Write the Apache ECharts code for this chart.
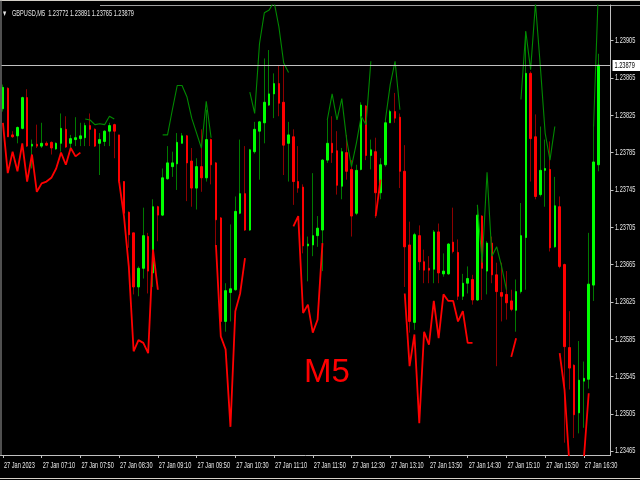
<!DOCTYPE html>
<html><head><meta charset="utf-8">
<script src="https://cdn.jsdelivr.net/npm/echarts@6/dist/echarts.min.js"></script>
<style>html,body{margin:0;padding:0;background:#000;}#c{width:640px;height:480px;}</style>
</head><body><div id="c"></div>
<script>
const symbol = 'GBPUSD,M5';
const tickLabels = ['27 Jan 2023','27 Jan 07:10','27 Jan 07:50','27 Jan 08:30','27 Jan 09:10','27 Jan 09:50','27 Jan 10:30','27 Jan 11:10','27 Jan 11:50','27 Jan 12:30','27 Jan 13:10','27 Jan 13:50','27 Jan 14:30','27 Jan 15:10','27 Jan 15:50','27 Jan 16:30'];
const priceTicks = [1.23465,1.23505,1.23545,1.23585,1.23625,1.23665,1.23705,1.23745,1.23785,1.23825,1.23865,1.23905];

const open = [1.23832,1.23854,1.23804,1.23803,1.23811,1.23844,1.23792,1.23794,1.23792,1.23795,
1.23796,1.23789,1.23795,1.23810,1.23795,1.23799,1.23800,1.23801,1.23814,1.23810,
1.23795,1.23797,1.23808,1.23815,1.23804,1.23754,1.23721,1.23699,1.23641,1.23661,
1.23695,1.23656,1.23727,1.23718,1.23757,1.23770,1.23773,1.23795,1.23803,1.23776,
1.23747,1.23770,1.23758,1.23799,1.23774,1.23715,1.23604,1.23635,1.23638,1.23720,
1.23741,1.23702,1.23786,1.23808,1.23817,1.23836,1.23848,1.23859,1.23839,1.23795,
1.23802,1.23754,1.23748,1.23685,1.23686,1.23696,1.23702,1.23777,1.23795,1.23787,
1.23749,1.23785,1.23767,1.23720,1.23767,1.23835,1.23782,1.23786,1.23742,1.23772,
1.23817,1.23829,1.23823,1.23765,1.23686,1.23603,1.23696,1.23668,1.23661,1.23660,
1.23700,1.23655,1.23655,1.23689,1.23678,1.23631,1.23645,1.23649,1.23627,1.23717,
1.23658,1.23688,1.23654,1.23635,1.23633,1.23626,1.23616,1.23636,1.23694,1.23870,
1.23802,1.23740,1.23766,1.23767,1.23684,1.23727,1.23665,1.23576,1.23557,1.23506,
1.23540,1.23542,1.23643,1.23772];
const high = [1.23858,1.23855,1.23808,1.23813,1.23845,1.23853,1.23799,1.23815,1.23817,1.23797,
1.23797,1.23796,1.23827,1.23824,1.23804,1.23823,1.23817,1.23817,1.23827,1.23811,
1.23806,1.23809,1.23817,1.23816,1.23804,1.23754,1.23722,1.23699,1.23663,1.23726,
1.23699,1.23735,1.23728,1.23768,1.23792,1.23786,1.23806,1.23806,1.23804,1.23790,
1.23779,1.23810,1.23831,1.23800,1.23775,1.23716,1.23645,1.23708,1.23738,1.23799,
1.23792,1.23789,1.23818,1.23819,1.23886,1.23895,1.23870,1.23879,1.23879,1.23818,
1.23810,1.23792,1.23751,1.23695,1.23763,1.23717,1.23778,1.23820,1.23824,1.23808,
1.23790,1.23804,1.23777,1.23772,1.23839,1.23836,1.23799,1.23801,1.23779,1.23822,
1.23831,1.23849,1.23827,1.23793,1.23711,1.23699,1.23707,1.23681,1.23674,1.23702,
1.23709,1.23677,1.23688,1.23726,1.23692,1.23655,1.23663,1.23654,1.23729,1.23718,
1.23690,1.23695,1.23667,1.23667,1.23658,1.23638,1.23649,1.23731,1.23915,1.23872,
1.23826,1.23813,1.23799,1.23797,1.23759,1.23738,1.23666,1.23615,1.23558,1.23583,
1.23561,1.23699,1.23815,1.23891];
const low = [1.23829,1.23802,1.23801,1.23795,1.23810,1.23791,1.23768,1.23790,1.23790,1.23792,
1.23783,1.23788,1.23786,1.23790,1.23790,1.23792,1.23792,1.23792,1.23792,1.23791,
1.23761,1.23792,1.23792,1.23779,1.23753,1.23718,1.23683,1.23633,1.23631,1.23650,
1.23634,1.23641,1.23690,1.23717,1.23756,1.23759,1.23745,1.23795,1.23733,1.23727,
1.23724,1.23743,1.23754,1.23751,1.23684,1.23588,1.23593,1.23604,1.23637,1.23719,
1.23701,1.23701,1.23784,1.23756,1.23795,1.23835,1.23822,1.23824,1.23761,1.23754,
1.23729,1.23742,1.23677,1.23647,1.23674,1.23684,1.23658,1.23774,1.23774,1.23740,
1.23735,1.23756,1.23695,1.23718,1.23766,1.23777,1.23767,1.23715,1.23735,1.23770,
1.23817,1.23817,1.23747,1.23641,1.23592,1.23595,1.23659,1.23645,1.23645,1.23645,
1.23645,1.23652,1.23654,1.23677,1.23627,1.23627,1.23634,1.23622,1.23626,1.23627,
1.23633,1.23645,1.23556,1.23604,1.23606,1.23615,1.23593,1.23634,1.23638,1.23754,
1.23735,1.23738,1.23727,1.23679,1.23683,1.23661,1.23474,1.23531,1.23479,1.23484,
1.23490,1.23532,1.23626,1.23765];
const close = [1.23855,1.23802,1.23802,1.23812,1.23844,1.23792,1.23794,1.23792,1.23795,1.23793,
1.23790,1.23795,1.23811,1.23791,1.23800,1.23801,1.23803,1.23814,1.23810,1.23792,
1.23799,1.23808,1.23814,1.23808,1.23754,1.23720,1.23697,1.23641,1.23661,1.23696,
1.23658,1.23727,1.23718,1.23758,1.23774,1.23774,1.23796,1.23803,1.23774,1.23747,
1.23770,1.23758,1.23799,1.23772,1.23713,1.23604,1.23637,1.23639,1.23722,1.23741,
1.23702,1.23788,1.23810,1.23818,1.23839,1.23848,1.23859,1.23838,1.23793,1.23804,
1.23754,1.23747,1.23685,1.23687,1.23696,1.23704,1.23777,1.23795,1.23785,1.23750,
1.23786,1.23765,1.23717,1.23766,1.23836,1.23782,1.23788,1.23742,1.23772,1.23817,
1.23829,1.23822,1.23765,1.23684,1.23604,1.23697,1.23668,1.23659,1.23659,1.23700,
1.23656,1.23658,1.23687,1.23679,1.23631,1.23645,1.23650,1.23627,1.23718,1.23661,
1.23688,1.23654,1.23636,1.23631,1.23624,1.23617,1.23636,1.23696,1.23870,1.23800,
1.23738,1.23766,1.23768,1.23683,1.23728,1.23663,1.23577,1.23554,1.23504,1.23541,
1.23543,1.23644,1.23775,1.23879];

const _ = null;
const lowerLine = [1.23817,1.23763,1.23786,1.23765,1.23795,1.23754,1.23783,1.23743,1.23752,1.23754,
1.23758,1.23768,1.23785,1.23772,1.23790,1.23781,1.23785,_,_,_,
_,_,_,_,1.23754,1.23717,1.23663,1.23572,1.23584,1.23581,
1.23570,1.23681,1.23638,_,_,_,_,_,_,_,
_,_,_,_,1.23686,1.23588,1.23574,1.23491,1.23615,1.23634,
1.23672,_,_,_,_,_,_,_,_,_,
1.23706,1.23717,1.23613,1.23622,1.23592,1.23606,1.23688,_,_,_,
_,_,_,_,_,_,_,1.23717,1.23756,_,
_,_,_,1.23634,1.23556,1.23590,1.23495,1.23593,1.23579,1.23626,
1.23586,1.23633,1.23626,1.23626,1.23604,1.23615,1.23581,1.23581,_,_,
_,_,_,_,_,1.23566,1.23586,_,_,_,
_,_,_,_,_,1.23570,1.23531,1.23452,1.23420,1.23420,
1.23457,1.23527,_,_];
const upperLine = [_,_,_,_,_,_,_,_,_,_,
_,_,_,_,_,_,_,1.23821,1.23820,1.23815,
1.23816,1.23815,1.23824,1.23821,_,_,_,_,_,_,
_,_,_,1.23804,1.23804,1.23831,1.23857,1.23857,1.23845,1.23822,
1.23806,1.23790,1.23840,1.23801,_,_,_,_,_,_,
_,1.23850,1.23827,1.23902,1.23935,1.23938,1.23947,1.23920,1.23881,1.23871,
_,_,_,_,_,_,_,1.23820,1.23848,1.23820,
1.23843,1.23799,1.23770,1.23795,1.23824,1.23815,1.23883,_,_,1.23820,
1.23858,1.23883,1.23831,_,_,_,_,_,_,_,
_,_,_,_,_,_,_,_,1.23729,1.23667,
1.23764,1.23674,1.23684,1.23663,1.23638,_,_,1.23842,1.23915,1.23874,
1.23945,1.23878,1.23806,1.23777,1.23813,_,_,_,_,_,
_,_,1.23813,1.23960];

// 5-minute bar times starting 06:30, plus two empty shift slots on the right
const nBars = open.length;
const categories = [];
for (let i = 0; i < nBars + 2; i++) {
  const m = 6 * 60 + 30 + 5 * i;
  categories.push(String(Math.floor(m / 60)).padStart(2, '0') + ':' + String(m % 60).padStart(2, '0'));
}
const wickData = open.map((o, i) => [o, close[i], low[i], high[i]]);
const bodyData = open.map((o, i) => [o, close[i], Math.min(o, close[i]), Math.max(o, close[i])]);
const last = nBars - 1;
const FONT = "'Liberation Sans', Arial, sans-serif";
const SX = 0.66;
const showTick = (idx) => idx % 8 === 0 && idx / 8 < tickLabels.length;

const chart = echarts.init(document.getElementById('c'), null, {renderer: 'canvas'});
chart.setOption({
  backgroundColor: '#000000',
  animation: false,
  title: [
    {text: 'M5', left: 299, top: 351, textStyle: {color: '#ff0000', fontSize: 33, fontWeight: 'normal', fontFamily: FONT}}
  ],
  grid: {left: 0.5, top: 5, width: 610, height: 450, containLabel: false, outerBoundsMode: 'none'},
  xAxis: {
    type: 'category', data: categories, boundaryGap: true,
    axisLine: {show: true, lineStyle: {color: '#c0c0c0', width: 1}},
    axisTick: {show: true, alignWithLabel: true, interval: showTick, length: 3, lineStyle: {color: '#c0c0c0'}},
    axisLabel: {show: false},
    splitLine: {show: false}
  },
  yAxis: {
    type: 'value', position: 'right', min: 1.234608, max: 1.239433, scale: true,
    axisLine: {show: true, lineStyle: {color: '#c0c0c0', width: 1}},
    axisTick: {show: true, length: 3, customValues: priceTicks, lineStyle: {color: '#c0c0c0'}},
    axisLabel: {show: false},
    splitLine: {show: false}
  },
  series: [
    {type: 'candlestick', name: 'wick', data: wickData, barWidth: 1, silent: true,
     itemStyle: {color: '#007a00', color0: '#8e0000', borderColor: '#007a00', borderColor0: '#8e0000', borderWidth: 1}},
    {type: 'line', name: 'lower', data: lowerLine, symbol: 'none', connectNulls: false, silent: true,
     lineStyle: {color: '#ff0000', width: 1.8}},
    {type: 'line', name: 'upper', data: upperLine, symbol: 'none', connectNulls: false, silent: true,
     lineStyle: {color: '#008a00', width: 1.1}},
    {type: 'candlestick', name: 'body', data: bodyData, barWidth: 2, silent: true,
     itemStyle: {color: '#00ff00', color0: '#ff0000', borderColor: '#00ff00', borderColor0: '#ff0000', borderWidth: 1}}
  ]
});

// Text and price line placed through the chart's own scales
const gfx = [
  {type: 'line', shape: {x1: 0, y1: 0.5, x2: 640, y2: 0.5}, style: {stroke: '#d4d0c8', lineWidth: 1}, silent: true},
  {type: 'line', shape: {x1: 100, y1: 5.5, x2: 640, y2: 5.5}, style: {stroke: '#a0a0a0', lineWidth: 1}, silent: true},
  {type: 'line', shape: {x1: 1, y1: 0, x2: 1, y2: 455}, style: {stroke: '#a0a0a0', lineWidth: 1}, silent: true},
  {type: 'line', shape: {x1: 0, y1: 478.5, x2: 640, y2: 478.5}, style: {stroke: '#d4d0c8', lineWidth: 1}, silent: true}
];
const txt = (text, x, y, color, size) => ({type: 'text', x: x, y: y, scaleX: SX, silent: true, z: 10,
  style: {text: text, fill: color, fontSize: size, fontFamily: FONT, align: 'left', verticalAlign: 'middle'}});
// header
gfx.push(txt('\u25BC', 2, 13.5, '#e6e6e6', 8));
gfx.push(txt(symbol + '  ' + [open[last], high[last], low[last], close[last]].map(v => v.toFixed(5)).join(' '), 12, 14, '#e6e6e6', 8.5));
// x labels
tickLabels.forEach((t, k) => {
  const px = chart.convertToPixel({xAxisIndex: 0}, k * 8);
  gfx.push(txt(t, px + 1, 465.5, '#e6e6e6', 8.5));
});
// y labels
const gridRight = chart.convertToPixel({xAxisIndex: 0}, categories.length - 1) + 610 / categories.length / 2;
priceTicks.forEach(v => {
  const py = chart.convertToPixel({yAxisIndex: 0}, v);
  gfx.push(txt(v.toFixed(5), gridRight + 4.5, py, '#e6e6e6', 8.5));
});
// current price line and label
const pyLast = Math.round(chart.convertToPixel({yAxisIndex: 0}, close[last])) + 0.5;
gfx.push({type: 'line', shape: {x1: 1.5, y1: pyLast, x2: gridRight, y2: pyLast}, style: {stroke: '#c0c0c0', lineWidth: 1}, silent: true, z: 5});
gfx.push({type: 'rect', shape: {x: gridRight + 2, y: pyLast - 5.5, width: 640 - gridRight - 2, height: 11}, style: {fill: '#ffffff'}, silent: true, z: 9});
gfx.push(txt(close[last].toFixed(5), gridRight + 4, pyLast, '#000000', 8.5));
chart.setOption({graphic: gfx});
</script></body></html>
